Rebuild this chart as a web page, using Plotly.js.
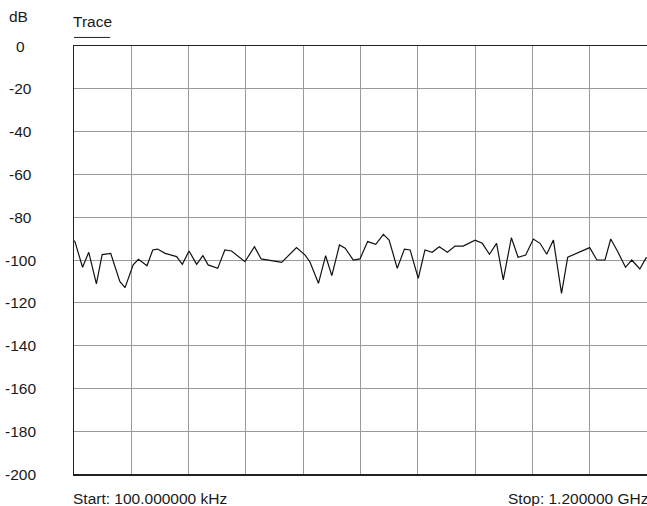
<!DOCTYPE html>
<html>
<head>
<meta charset="utf-8">
<script src="https://cdn.plot.ly/plotly-3.0.1.min.js"></script>
<style>html,body{margin:0;padding:0;background:#fff;}#chart{width:647px;height:506px;}</style>
</head>
<body>
<div id="chart"></div>
<script>
// Frequency in MHz (100 kHz .. 1.2 GHz)
const freqMHz = [0.1, 2, 18, 31, 47, 59, 77, 96, 107, 124, 135, 153, 165, 175, 191, 215, 227, 241, 257, 270, 281, 301, 316, 330, 358, 378, 392, 435, 466, 484, 494, 512, 527, 540, 556, 568, 585, 599, 615, 632, 648, 660, 677, 692, 704, 721, 735, 750, 765, 782, 798, 815, 840, 855, 870, 885, 899, 916, 930, 946, 962, 976, 990, 1004, 1021, 1034, 1080, 1095, 1112, 1124, 1138, 1155, 1168, 1185, 1198, 1200];
const traceDb = [-91, -91.4, -103.4, -96.4, -111.2, -97.5, -96.9, -110, -112.9, -102.3, -99.7, -102.7, -95.3, -94.9, -96.9, -98.4, -102, -95.8, -102, -98, -102.3, -103.9, -95.3, -95.8, -100.8, -93.8, -99.5, -101.1, -94.2, -97.7, -100.8, -110.9, -98, -107.3, -93, -94.5, -100, -99.5, -91.4, -92.7, -88, -90.7, -103.9, -94.9, -95.3, -108.6, -95.3, -96.4, -93.8, -96.4, -93.5, -93.5, -90.7, -92.2, -97.3, -92.2, -109.3, -89.6, -98.7, -97.7, -90.2, -92.2, -97.3, -90.7, -115.6, -98.7, -94.2, -100, -100, -90.2, -95.8, -103.4, -100, -104.2, -99, -99];
const yTicks = [0, -20, -40, -60, -80, -100, -120, -140, -160, -180, -200];
const yTickLabels = ['0', '-20', '-40', '-60', '-80', '-100', '-120', '-140', '-160', '-180', '-200'];
const startLabel = 'Start: 100.000000 kHz';
const stopLabel = 'Stop: 1.200000 GHz';

const font = {family: 'Liberation Sans, Arial, sans-serif', size: 15.5, color: '#1a1a1a'};

const annotations = yTicks.map((v, i) => ({
  xref: 'paper', yref: 'y', x: -0.094, y: v, text: yTickLabels[i],
  showarrow: false, xanchor: 'center', yanchor: 'middle', font: font
}));
annotations.push({xref: 'paper', yref: 'paper', x: -0.096, y: 1.07, text: 'dB', showarrow: false, xanchor: 'center', yanchor: 'middle', font: font});
annotations.push({xref: 'paper', yref: 'paper', x: 0, y: 1.057, text: 'Trace', showarrow: false, xanchor: 'left', yanchor: 'middle', font: font, xshift: -3});
annotations.push({xref: 'paper', yref: 'paper', x: 0.0, y: -0.058, text: startLabel, showarrow: false, xanchor: 'left', yanchor: 'middle', font: font, xshift: -3});
annotations.push({xref: 'paper', yref: 'paper', x: 1.0, y: -0.058, text: stopLabel, showarrow: false, xanchor: 'right', yanchor: 'middle', font: font, xshift: 3});

const data = [{
  x: freqMHz, y: traceDb, type: 'scatter', mode: 'lines',
  line: {color: '#111', width: 1.2}, hoverinfo: 'skip', showlegend: false
}];

const layout = {
  width: 647, height: 506,
  margin: {l: 74, r: 0, t: 46, b: 32, pad: 0},
  paper_bgcolor: '#fff', plot_bgcolor: '#fff',
  showlegend: false,
  xaxis: {
    range: [0.1, 1200], tickmode: 'linear', tick0: 0.1, dtick: 119.99,
    showticklabels: false, ticks: '', showgrid: true, gridcolor: '#9a9a9a', gridwidth: 1,
    zeroline: false, showline: true, linecolor: '#222', linewidth: 1.5, mirror: true
  },
  yaxis: {
    range: [-200, 0], tickmode: 'array', tickvals: yTicks,
    showticklabels: false, ticks: '', showgrid: true, gridcolor: '#9a9a9a', gridwidth: 1,
    zeroline: false, showline: true, linecolor: '#222', linewidth: 1.5, mirror: true
  },
  annotations: annotations,
  shapes: [{type: 'line', xref: 'paper', yref: 'paper', x0: 0, x1: 0.063, y0: 1.02, y1: 1.02, line: {color: '#222', width: 1}}]
};

Plotly.newPlot('chart', data, layout, {staticPlot: true, displayModeBar: false});
</script>
</body>
</html>
